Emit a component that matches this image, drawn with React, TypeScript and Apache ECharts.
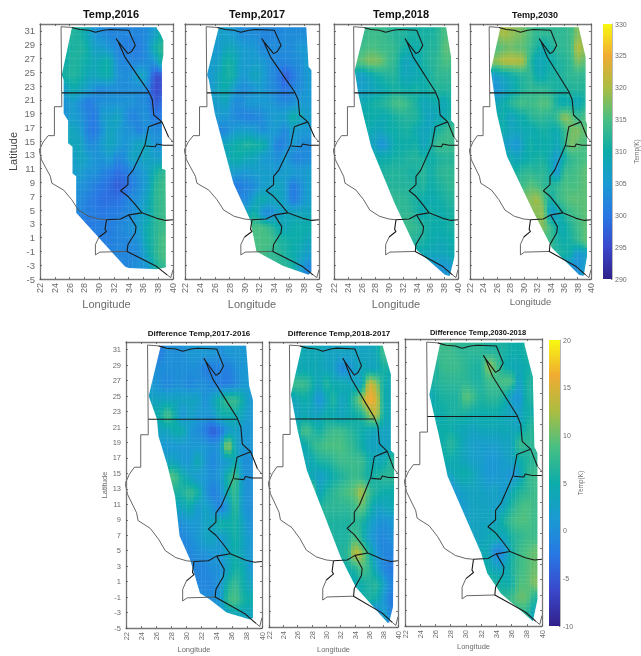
import React, { useEffect, useRef } from "react";
import * as echarts from "echarts";

const _ = null;
const latRows = [30.5, 28.5, 26.5, 24.5, 22.5, 20.5, 18.5, 16.5, 14.5, 12.5, 10.5, 8.5, 6.5, 4.5, 2.5, 0.5, -1.5, -3.5];
const lonHalf = [25.5, 26.5, 27.5, 28.5, 29.5, 30.5, 31.5, 32.5, 33.5, 34.5, 35.5, 36.5, 37.5, 38.5];
const lonWhole = [25, 26, 27, 28, 29, 30, 31, 32, 33, 34, 35, 36, 37, 38, 39];

const temp2016 = [
  [_,312,311,308,304,303,302,302,302,302,302,303,306,311],
  [_,311,312,310,306,306,304,302,301,301,301,303,310,313],
  [310,312,311,310,308,310,310,303,302,302,302,303,304,312],
  [311,312,311,308,308,310,310,304,303,304,308,306,296,296],
  [306,310,308,306,303,302,303,303,303,303,303,303,295,296],
  [304,306,303,300,302,304,304,304,304,304,303,303,297,299],
  [304,306,304,302,300,306,306,308,304,301,303,304,300,301],
  [_,308,306,301,300,304,308,306,304,304,301,304,303,303],
  [_,308,308,303,303,306,308,306,304,306,308,308,304,304],
  [_,306,308,306,304,304,306,302,303,308,306,308,306,306],
  [_,306,306,304,304,302,301,299,300,302,304,306,310,313],
  [_,_,304,303,301,300,299,297,298,301,303,306,312,314],
  [_,_,303,301,300,299,299,299,301,303,304,308,312,314],
  [_,_,302,301,301,300,301,301,302,303,306,308,312,314],
  [_,_,_,300,301,301,301,302,303,304,306,310,312,314],
  [_,_,_,_,_,301,301,302,302,303,304,310,312,315],
  [_,_,_,_,_,_,302,302,302,302,303,308,312,315],
  [_,_,_,_,_,_,_,_,302,303,304,304,310,313],
];
const temp2017 = [
  [_,306,306,305,303,303,303,302,302,302,303,303,303,_],
  [_,305,308,308,306,305,305,302,303,303,303,303,305,_],
  [306,306,311,310,306,305,306,305,303,302,302,303,303,306],
  [305,308,311,311,305,306,308,306,303,301,297,300,303,305],
  [305,308,310,306,303,303,305,305,303,302,299,302,303,305],
  [_,306,308,303,303,305,305,305,305,303,303,303,305,305],
  [_,305,305,303,302,301,302,303,305,306,306,311,308,306],
  [_,_,302,305,306,306,305,303,305,305,302,306,305,305],
  [_,_,308,310,311,312,311,311,306,301,302,306,303,303],
  [_,_,308,310,310,308,308,305,305,303,306,302,302,303],
  [_,_,_,306,305,305,306,306,306,305,306,306,305,306],
  [_,_,_,300,301,302,303,306,306,308,306,300,303,306],
  [_,_,_,_,302,303,308,310,308,308,306,300,303,306],
  [_,_,_,_,_,308,311,303,302,306,308,308,308,308],
  [_,_,_,_,_,_,315,315,313,310,308,310,310,310],
  [_,_,_,_,_,_,315,315,315,312,311,310,310,308],
  [_,_,_,_,_,_,_,315,313,313,311,310,308,306],
  [_,_,_,_,_,_,_,_,_,_,313,311,306,302],
];
const temp2018 = [
  [_,313,314,314,314,313,312,312,311,311,311,311,312,315,_],
  [_,314,315,315,314,314,313,311,310,310,311,312,312,316,316],
  [_,316,318,318,317,314,313,308,308,309,311,312,313,315,315],
  [308,306,308,310,311,312,312,308,308,309,310,311,313,313,313],
  [_,306,307,308,309,310,311,310,310,311,310,311,312,312,312],
  [_,309,310,311,312,313,315,315,313,311,308,309,310,308,311],
  [_,_,310,310,309,310,311,312,312,312,309,307,309,309,311],
  [_,_,310,308,308,310,310,311,311,309,308,308,311,313,314],
  [_,_,_,307,303,307,310,310,310,311,307,310,314,314,314],
  [_,_,_,310,310,310,311,311,312,312,311,310,311,312,312],
  [_,_,_,_,311,312,312,312,311,311,313,310,312,313,313],
  [_,_,_,_,_,312,312,312,312,311,312,310,311,312,313],
  [_,_,_,_,_,_,313,313,312,311,310,309,310,311,312],
  [_,_,_,_,_,_,_,313,313,311,309,311,310,310,311],
  [_,_,_,_,_,_,_,_,314,313,312,310,310,310,311],
  [_,_,_,_,_,_,_,_,_,312,311,310,309,309,310],
  [_,_,_,_,_,_,_,_,_,_,309,308,308,308,309],
  [_,_,_,_,_,_,_,_,_,_,_,_,_,304,305],
];
const temp2030 = [
  [_,318,320,319,318,317,315,313,313,313,313,313,314,318,_],
  [_,315,316,317,316,316,314,311,309,311,313,313,314,321,319],
  [_,319,321,321,321,320,312,308,309,310,311,312,313,318,316],
  [305,306,308,309,311,312,313,309,309,311,311,312,313,313,313],
  [_,304,306,308,310,312,313,313,313,312,311,311,312,312,312],
  [_,308,310,312,314,315,314,315,316,315,310,309,310,308,311],
  [_,_,310,307,309,310,312,313,313,312,314,319,317,313,315],
  [_,_,310,308,308,309,309,310,311,310,309,313,317,318,316],
  [_,_,_,306,304,308,311,309,310,310,308,312,318,316,315],
  [_,_,_,309,308,309,310,311,311,309,305,310,313,314,315],
  [_,_,_,_,311,313,313,312,313,310,304,314,314,315,316],
  [_,_,_,_,_,314,316,315,313,312,313,315,315,315,316],
  [_,_,_,_,_,_,318,320,316,310,313,315,316,316,316],
  [_,_,_,_,_,_,_,318,319,305,307,312,314,315,316],
  [_,_,_,_,_,_,_,_,318,314,310,309,312,314,316],
  [_,_,_,_,_,_,_,_,_,314,311,310,311,313,316],
  [_,_,_,_,_,_,_,_,_,_,312,311,310,304,306],
  [_,_,_,_,_,_,_,_,_,_,_,_,_,303,306],
];
const diff1716 = [
  [_,-2,0,0,0,1,1,1,1,0,1,1,1,1],
  [_,0,0,0,0,0,0,-2,-2,-1,-2,0,1,1],
  [1,0,-1,0,0,-1,0,0,-1,-2,-2,-1,1,1],
  [3,3,3,3,3,3,3,0,3,6,8,8,5,1],
  [_,5,9,5,0,3,1,1,1,5,5,5,3,1],
  [_,3,3,5,5,1,0,-2,-5,-3,1,3,1,1],
  [_,_,1,1,1,1,1,1,0,1,14,3,1,1],
  [_,_,3,3,1,1,5,1,-1,1,1,5,0,0],
  [_,_,_,9,5,3,1,1,0,1,6,9,1,0],
  [_,_,_,6,6,8,6,1,-2,0,5,8,1,0],
  [_,_,_,3,3,5,1,3,1,-2,1,8,1,0],
  [_,_,_,_,0,1,1,3,3,6,5,6,3,0],
  [_,_,_,_,-1,0,1,3,3,1,3,6,3,1],
  [_,_,_,_,_,-1,0,0,1,1,3,5,3,1],
  [_,_,_,_,_,_,-1,-1,0,0,3,6,5,1],
  [_,_,_,_,_,_,-1,-1,-1,1,6,8,5,3],
  [_,_,_,_,_,_,_,_,0,1,8,9,6,5],
  [_,_,_,_,_,_,_,_,_,_,1,3,3,3],
];
const diff1817 = [
  [_,5,4,4,4,3,3,3,3,3,3,3,4,8,_],
  [_,4,4,4,4,3,3,-1,0,2,4,3,3,6,5],
  [_,8,8,6,3,7,4,5,4,3,3,15,12,5,4],
  [3,4,5,4,0,3,7,3,4,8,12,17,15,5,4],
  [_,3,4,3,3,5,4,3,4,5,6,11,14,5,4],
  [_,5,9,7,5,7,8,8,7,6,5,4,3,3,3],
  [_,_,4,7,8,9,9,9,8,7,5,3,3,3,3],
  [_,_,4,4,6,6,7,8,8,8,8,5,4,4,7],
  [_,_,_,4,2,3,5,6,7,8,7,5,6,7,7],
  [_,_,_,11,3,6,7,8,9,10,13,8,6,5,5],
  [_,_,_,_,6,7,7,7,7,8,10,6,3,3,4],
  [_,_,_,_,_,6,6,6,6,7,6,3,1,0,1],
  [_,_,_,_,_,_,6,6,6,9,6,2,0,-1,0],
  [_,_,_,_,_,_,_,6,7,14,12,6,1,-1,-1],
  [_,_,_,_,_,_,_,_,5,6,9,7,3,-1,-2],
  [_,_,_,_,_,_,_,_,_,4,5,6,7,3,-1],
  [_,_,_,_,_,_,_,_,_,_,5,6,5,1,-2],
  [_,_,_,_,_,_,_,_,_,_,_,_,-3,3,-1],
];
const diff3018 = [
  [_,8,8,8,7,7,7,7,6,6,6,5,5,6,_],
  [_,6,8,8,8,7,6,6,12,9,5,4,4,5,6],
  [_,6,7,7,7,7,6,6,8,8,9,9,2,6,6],
  [3,5,6,6,6,10,8,6,7,7,6,2,0,6,6],
  [_,5,5,6,6,6,5,5,5,5,4,3,2,5,5],
  [_,5,5,5,4,4,3,4,4,4,4,4,3,6,7],
  [_,_,5,7,5,3,2,2,2,2,3,3,8,7,7],
  [_,_,5,5,4,3,2,2,1,1,2,3,5,6,7],
  [_,_,_,3,5,5,4,2,1,1,2,0,2,7,8],
  [_,_,_,0,2,3,3,3,2,3,1,4,6,7,8],
  [_,_,_,_,1,2,3,3,3,2,3,6,8,9,8],
  [_,_,_,_,_,2,3,3,3,3,6,8,9,9,8],
  [_,_,_,_,_,_,_,3,4,5,3,6,7,8,8],
  [_,_,_,_,_,_,_,_,4,-2,0,5,8,9,10],
  [_,_,_,_,_,_,_,_,5,3,3,6,8,9,10],
  [_,_,_,_,_,_,_,_,_,6,5,5,9,9,11],
  [_,_,_,_,_,_,_,_,_,_,7,8,10,10,6],
  [_,_,_,_,_,_,_,_,_,_,_,_,_,7,3],
];

const left2016 = [[26.3,31.4],[24.95,24.6],[25.2,23.9],[25.2,19],[25.8,18],[25.8,14.7],[26.4,14.2],[26.4,10.3],[26.9,9.9],[26.9,4.6],[33.5,-3.2],[34,-3.4],[37.8,-3.6],[39.1,-3.3]];
const right2016 = [[37.8,31.4],[38.3,30.6],[38.7,29.6],[38.7,27.5],[38.5,26.3],[38.5,11],[39,10.8],[39.1,-3.3]];
const left2017 = [[26.5,31.4],[24.95,24.6],[25.2,23.9],[26,19],[28.5,8.9],[30.75,3.6],[31.6,-1],[35.2,-3.1],[38.6,-4.4],[39,-3.9]];
const right2017 = [[38.3,31.4],[38.6,25.8],[39,25.3],[39,-3.9]];
const left2018 = [[26.5,31.4],[25,25.3],[25.5,22],[26.2,19],[27.4,14.2],[30.8,6],[34,-0.8],[38.1,-4.4],[38.8,-4.6]];
const right2018 = [[38.3,31.4],[39,27.2],[39,18],[39.5,17.5],[39.5,-1.7],[38.8,-4.6]];
const left2030 = [[26.5,31.4],[25.1,25.3],[26,19],[27.5,12.8],[31.5,4.6],[34.2,-0.5],[38.2,-4.4],[38.9,-4.6]];
const right2030 = [[38.2,31.4],[39.2,27.2],[39.2,18],[39.4,17.5],[39.4,-1.7],[38.9,-4.6]];
const left1716 = [[26.6,31.5],[25,25],[26.1,22],[26.3,19.8],[27.4,16.3],[28.5,12],[29.1,6.9],[30.5,3.8],[31.8,-0.5],[33.1,-1.3],[35.3,-3],[38.4,-3.9],[38.8,-3.7]];
const right1716 = [[37.9,31.5],[38.3,26.3],[38.8,24.5],[38.8,-3.7]];
const left1817 = [[26.6,31.5],[25.05,25.2],[26,20.5],[27.3,15.3],[32,4.1],[34.1,0.2],[38.6,-4.5],[38.8,-4.3]];
const right1817 = [[37.9,31.4],[39,27.8],[39,17.9],[39.5,17.5],[39.3,-2.4],[38.8,-4.3]];
const left3018 = [[26.6,31.4],[25.2,24.8],[26.4,19.8],[27.6,14.3],[32,4.4],[32.8,1.8],[34.6,-0.8],[38.8,-4.4]];
const right3018 = [[37.7,31.3],[38.8,27.1],[39,18.1],[39.4,17.3],[39.4,-1.6],[38.8,-4.4]];

const thinLines = [
  [[26.3,31.5],[24.85,31.6],[24.95,20],[23.95,20],[23.95,15.8],[23.1,15.8],[22.45,14.9],[21.9,13.7],[22.2,12.3],[23.4,9.9],[23.6,8.9],[25.2,7.9],[26.3,6.5],[27.2,5],[28.6,4.1],[30,3.7],[31,3.6]],
  [[30,1.1],[29.5,0],[29.5,-1.5],[30.1,-1.1],[33.8,-1]],
  [[39.2,-4.4],[39.7,-4.8],[40,-3.65]],
  [[39.4,15.6],[40,14.9]],
];
const thickLines = [
  [[26.3,31.5],[27.4,31.2],[28.6,31.1],[29.5,30.8],[30.6,31.1],[31.5,31.2],[34,31.1],[34.9,28.9],[34.4,28],[33.9,27.7],[32.4,29.7],[32.3,29.9],[32.5,29.6],[33.5,27.2],[35.6,23.9],[36.7,22.2],[37.2,21],[37.4,18.8],[38.5,17.8],[39.4,15.6]],
  [[24.95,22],[36.7,22]],
  [[38.5,17.8],[36.7,17.1],[36.2,14.4],[34.6,10.8],[33.9,9.9],[33.9,8.7],[32.9,7.8],[33.9,7],[34.9,5.8],[35.8,4.6],[37.8,3.8],[39,3.5],[40,3.6]],
  [[36.3,14.3],[37.6,14.2],[37.8,14.6],[38.7,14.4],[40,14.4]],
  [[31,3.6],[32.9,3.7],[34,4.3],[35.8,4.6]],
  [[34,4.3],[35,2.6],[34.9,1.7],[33.9,0],[33.8,-1],[37.8,-3.2],[39.2,-4.4]],
  [[31,3.6],[30.8,2.2],[31,1.9],[30,1.1]],
];

const lonTicks = [22, 24, 26, 28, 30, 32, 34, 36, 38, 40];
const latTicks = [-5, -3, -1, 1, 3, 5, 7, 9, 11, 13, 15, 17, 19, 21, 23, 25, 27, 29, 31];
const tempBarTicks = [290, 295, 300, 305, 310, 315, 320, 325, 330];
const diffBarTicks = [-10, -5, 0, 5, 10, 15, 20];
const colorStops = ["#32208a", "#3a48cc", "#2878e4", "#1a9ad2", "#0cacaa", "#48bf84", "#aabd42", "#f0ab32", "#f8f810"];

const panels = [
  { title: "Temp,2016", v: temp2016, lons: lonHalf, el: left2016, er: right2016, l: 40, t: 24, w: 133, h: 255, lo: 290, hi: 330, ts: 11, tx: 106, ty: 3, yl: true, yn: "Latitude", fs: 9, ns: 11, ng: 19 },
  { title: "Temp,2017", v: temp2017, lons: lonHalf, el: left2017, er: right2017, l: 185, t: 24, w: 134, h: 255, lo: 290, hi: 330, ts: 11, tx: 252, ty: 3, yl: false, yn: "", fs: 9, ns: 11, ng: 19 },
  { title: "Temp,2018", v: temp2018, lons: lonWhole, el: left2018, er: right2018, l: 334, t: 24, w: 124, h: 255, lo: 290, hi: 330, ts: 11, tx: 396, ty: 3, yl: false, yn: "", fs: 9, ns: 11, ng: 19 },
  { title: "Temp,2030", v: temp2030, lons: lonWhole, el: left2030, er: right2030, l: 470, t: 24, w: 121, h: 255, lo: 290, hi: 330, ts: 9, tx: 530, ty: 5, yl: false, yn: "", fs: 9, ns: 9.5, ng: 15 },
  { title: "Difference Temp,2017-2016", v: diff1716, lons: lonHalf, el: left1716, er: right1716, l: 126, t: 342, w: 136, h: 286, lo: -10, hi: 20, ts: 8, tx: 194, ty: 324, yl: true, yn: "Latitude", fs: 7.5, ns: 7.5, ng: 17 },
  { title: "Difference Temp,2018-2017", v: diff1817, lons: lonWhole, el: left1817, er: right1817, l: 269, t: 342, w: 129, h: 285, lo: -10, hi: 20, ts: 8, tx: 334, ty: 324, yl: false, yn: "", fs: 7.5, ns: 7.5, ng: 18 },
  { title: "Difference Temp,2030-2018", v: diff3018, lons: lonWhole, el: left3018, er: right3018, l: 405, t: 339, w: 137, h: 287, lo: -10, hi: 20, ts: 7.5, tx: 473, ty: 323, yl: false, yn: "", fs: 7.5, ns: 7.5, ng: 15 },
];
const bars = [
  { min: 290, max: 330, ticks: tempBarTicks, l: 603, t: 24, w: 10, h: 255, name: "Temp(K)", ng: 21, fs: 7 },
  { min: -10, max: 20, ticks: diffBarTicks, l: 549, t: 340, w: 11, h: 286, name: "Temp(K)", ng: 15, fs: 7 },
];

const FONT = "'Liberation Sans', Arial, sans-serif";
const GREY = "#6b6b6b";

const rgb = colorStops.map((h) => [parseInt(h.slice(1, 3), 16), parseInt(h.slice(3, 5), 16), parseInt(h.slice(5, 7), 16)]);
function colorAt(t: number) {
  const x = Math.max(0, Math.min(0.9999, t)) * (rgb.length - 1);
  const i = Math.floor(x);
  const f = x - i;
  const m = rgb[i].map((a, k) => Math.round(a + (rgb[i + 1][k] - a) * f));
  return `rgb(${m[0]},${m[1]},${m[2]})`;
}

// Extend each row sideways to the mask edge, repeating its end values.
function padRows(rows: (number | null)[][]) {
  return rows.map((row) => {
    const out = row.slice();
    const first = out.findIndex((v) => v !== null);
    let last = out.length - 1;
    while (out[last] === null) last--;
    for (let c = first - 1; c >= Math.max(0, first - 3); c--) out[c] = row[first];
    for (let c = last + 1; c < out.length; c++) out[c] = row[last];
    return out;
  });
}

function buildOption() {
  const grid: any[] = [];
  const xAxis: any[] = [];
  const yAxis: any[] = [];
  const series: any[] = [];
  const title: any[] = [];

  panels.forEach((p, i) => {
    grid.push({ left: p.l, top: p.t, width: p.w, height: p.h });
    title.push({
      text: p.title, left: p.tx, top: p.ty, textAlign: "center",
      textStyle: { fontFamily: FONT, fontSize: p.ts, fontWeight: "bold", color: "#111" },
    });
    const line = { show: true, lineStyle: { color: "#777", width: 1.3 } };
    const tick = { show: true, inside: true, length: 2, lineStyle: { color: "#555", width: 0.8 } };
    xAxis.push({
      type: "value", gridIndex: i, min: 22, max: 40, position: "bottom", z: 6,
      splitLine: { show: false }, axisLine: { ...line, onZero: false }, axisTick: { ...tick, customValues: lonTicks },
      axisLabel: { customValues: lonTicks, rotate: 90, fontSize: p.fs, color: GREY, fontFamily: FONT, margin: 4 },
      name: "Longitude", nameLocation: "middle", nameGap: p.ng,
      nameTextStyle: { fontSize: p.ns, color: GREY, fontFamily: FONT },
    });
    xAxis.push({
      type: "value", gridIndex: i, min: 22, max: 40, position: "top", z: 6,
      splitLine: { show: false }, axisLine: { ...line, onZero: false }, axisTick: { ...tick, customValues: lonTicks }, axisLabel: { show: false },
    });
    yAxis.push({
      type: "value", gridIndex: i, min: -5, max: 32, position: "left", z: 6,
      splitLine: { show: false }, axisLine: { ...line, onZero: false },
      axisTick: { ...tick, customValues: latTicks },
      axisLabel: { show: p.yl, customValues: latTicks, fontSize: p.fs + (i === 0 ? 0.5 : 0), color: GREY, fontFamily: FONT, margin: 5 },
      name: p.yn, nameLocation: "middle", nameGap: i < 4 ? 22 : 17,
      nameTextStyle: { fontSize: p.ns, color: i < 4 ? "#444" : GREY, fontFamily: FONT },
    });
    yAxis.push({
      type: "value", gridIndex: i, min: -5, max: 32, position: "right", z: 6,
      splitLine: { show: false }, axisLine: { ...line, onZero: false },
      axisTick: { ...tick, customValues: latTicks }, axisLabel: { show: false },
    });
    const xi = i * 2;
    const filled = padRows(p.v);
    const cells: any[] = [];
    filled.forEach((row, r) => row.forEach((val, c) => {
      if (val !== null) cells.push([p.lons[c], latRows[r], val, r, c]);
    }));
    const span = p.hi - p.lo;
    series.push({
      type: "custom", xAxisIndex: xi, yAxisIndex: xi, data: cells, z: 2, silent: true, clip: true,
      encode: { x: 0, y: 1 },
      renderItem: (_p: any, api: any) => {
        const r = api.value(3);
        const c = api.value(4);
        const own = api.value(2);
        const cc = api.coord([api.value(0), api.value(1)]);
        const s = api.size([1, 2]);
        const children: any[] = [];
        const get = (rr: number, cl: number) => {
          const v = filled[rr] && filled[rr][cl];
          return v === null || v === undefined ? own : v;
        };
        const NX = 2;
        const NY = 4;
        for (let a = 0; a < NX; a++) {
          for (let b = 0; b < NY; b++) {
            const fx = (a + 0.5) / NX - 0.5;
            const fy = (b + 0.5) / NY - 0.5;
            const c2 = c + (fx < 0 ? -1 : 1);
            const r2 = r + (fy < 0 ? -1 : 1);
            const wx = Math.abs(fx);
            const wy = Math.abs(fy);
            const v = (1 - wy) * ((1 - wx) * own + wx * get(r, c2)) + wy * ((1 - wx) * get(r2, c) + wx * get(r2, c2));
            children.push({
              type: "rect",
              shape: {
                x: cc[0] - s[0] / 2 + (a * s[0]) / NX - 0.2,
                y: cc[1] - s[1] / 2 + (b * s[1]) / NY - 0.2,
                width: s[0] / NX + 0.4,
                height: s[1] / NY + 0.4,
              },
              style: { fill: colorAt((v - p.lo) / span) },
            });
          }
        }
        return { type: "group", children };
      },
    });
    const leftMask = [[22, 32], [p.el[0][0], 32], ...p.el, [p.el[p.el.length - 1][0], -5], [22, -5]];
    const rightMask = [[p.er[0][0], 32], [40, 32], [40, -5], [p.er[p.er.length - 1][0], -5], ...p.er.slice().reverse()];
    [leftMask, rightMask].forEach((pts) => series.push({
      type: "custom", xAxisIndex: xi, yAxisIndex: xi, data: [pts[0]], z: 3, silent: true, clip: true,
      encode: { x: 0, y: 1 },
      renderItem: (_p: any, api: any) => ({
        type: "polygon",
        shape: { points: pts.map((q) => api.coord(q)) },
        style: { fill: "#fff" },
      }),
    }));
    const border = (d: number[][], color: string, width: number) => series.push({
      type: "line", xAxisIndex: xi, yAxisIndex: xi, data: d, symbol: "none", z: 5, silent: true,
      lineStyle: { color, width },
    });
    thinLines.forEach((d) => border(d, "#555", 0.9));
    thickLines.forEach((d) => border(d, "#1a1a1a", 1.1));
  });

  bars.forEach((b) => {
    const gi = grid.length;
    const xi = xAxis.length;
    grid.push({ left: b.l, top: b.t, width: b.w, height: b.h });
    xAxis.push({ type: "value", gridIndex: gi, min: 0, max: 1, show: false });
    yAxis.push({
      type: "value", gridIndex: gi, min: b.min, max: b.max, position: "right",
      splitLine: { show: false },
      axisLine: { show: true, onZero: false, lineStyle: { color: "#888", width: 0.6 } },
      axisTick: { show: true, inside: true, length: 1, customValues: b.ticks, lineStyle: { color: "#777" } },
      axisLabel: { customValues: b.ticks, fontSize: b.fs, color: GREY, fontFamily: FONT, margin: 3 },
      name: b.name, nameLocation: "middle", nameGap: b.ng, nameRotate: 90,
      nameTextStyle: { fontSize: b.fs - 0.5, color: GREY, fontFamily: FONT },
    });
    series.push({
      type: "custom", xAxisIndex: xi, yAxisIndex: yAxis.length - 1, data: [[0, b.min, b.max]], silent: true, z: 2,
      encode: { x: 0, y: [1, 2] },
      renderItem: (_p: any, api: any) => {
        const a = api.coord([0, api.value(1)]);
        const z = api.coord([1, api.value(2)]);
        return {
          type: "rect",
          shape: { x: a[0], y: z[1], width: z[0] - a[0], height: a[1] - z[1] },
          style: {
            fill: new echarts.graphic.LinearGradient(0, 1, 0, 0, colorStops.map((color, k) => ({ offset: k / (colorStops.length - 1), color }))),
          },
        };
      },
    });
  });

  return { animation: false, backgroundColor: "#fff", title, grid, xAxis, yAxis, series };
}

export default function App() {
  const ref = useRef<HTMLDivElement>(null);
  useEffect(() => {
    document.body.style.margin = "0";
    const chart = echarts.init(ref.current!, undefined, { renderer: "svg" });
    chart.setOption(buildOption() as any);
    return () => chart.dispose();
  }, []);
  return <div ref={ref} style={{ position: "absolute", left: 0, top: 0, width: 641, height: 656, filter: "blur(0.7px)" }} />;
}
